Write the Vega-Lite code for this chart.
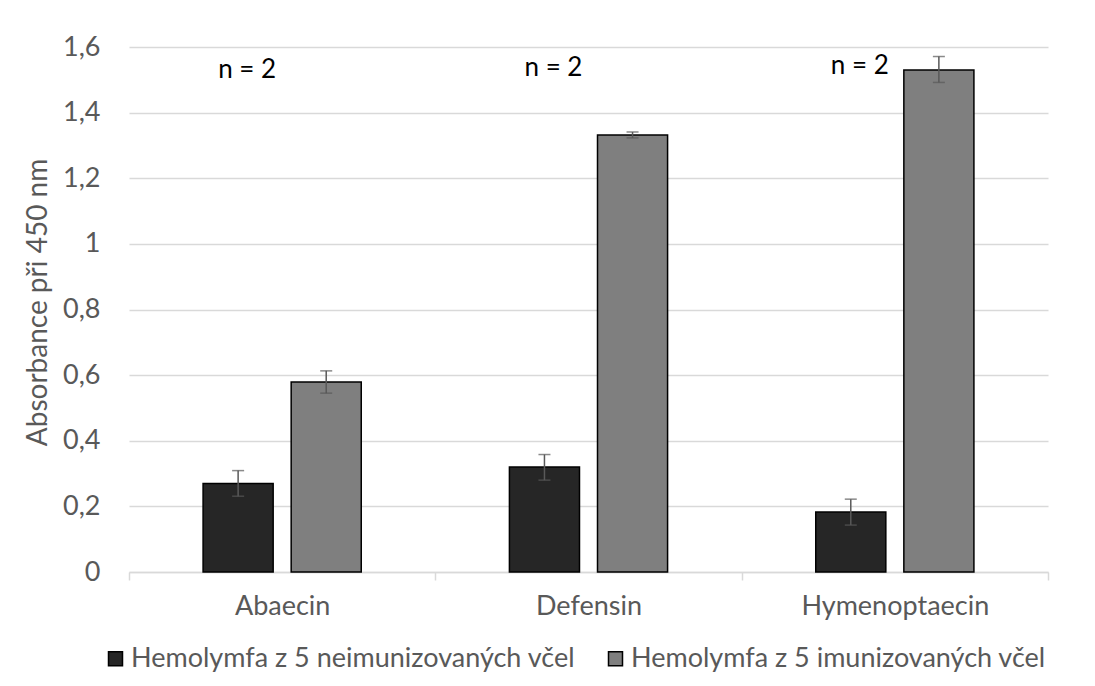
{
  "$schema": "https://vega.github.io/schema/vega-lite/v6.json",
  "autosize": "none",
  "width": 919,
  "height": 525,
  "padding": {"left": 129, "top": 47, "right": 47, "bottom": 114},
  "background": "white",
  "config": {
    "font": "Lato",
    "view": {"stroke": null}
  },
  "datasets": {
    "bars": [
      {"gene": "Abaecin", "group": "Hemolymfa z 5 neimunizovaných včel", "value": 0.270, "lo": 0.231, "hi": 0.309},
      {"gene": "Abaecin", "group": "Hemolymfa z 5 imunizovaných včel", "value": 0.579, "lo": 0.545, "hi": 0.613},
      {"gene": "Defensin", "group": "Hemolymfa z 5 neimunizovaných včel", "value": 0.320, "lo": 0.280, "hi": 0.358},
      {"gene": "Defensin", "group": "Hemolymfa z 5 imunizovaných včel", "value": 1.332, "lo": 1.323, "hi": 1.341},
      {"gene": "Hymenoptaecin", "group": "Hemolymfa z 5 neimunizovaných včel", "value": 0.183, "lo": 0.143, "hi": 0.222},
      {"gene": "Hymenoptaecin", "group": "Hemolymfa z 5 imunizovaných včel", "value": 1.530, "lo": 1.492, "hi": 1.571}
    ],
    "notes": [
      {"gene": "Abaecin", "group": "Hemolymfa z 5 neimunizovaných včel", "label": "n = 2", "pos": 1.530},
      {"gene": "Defensin", "group": "Hemolymfa z 5 neimunizovaných včel", "label": "n = 2", "pos": 1.536},
      {"gene": "Hymenoptaecin", "group": "Hemolymfa z 5 neimunizovaných včel", "label": "n = 2", "pos": 1.542}
    ]
  },
  "encoding": {
    "x": {
      "field": "gene",
      "type": "nominal",
      "sort": ["Abaecin", "Defensin", "Hymenoptaecin"],
      "scale": {"paddingInner": 0, "paddingOuter": 0},
      "axis": {
        "title": null,
        "labelAngle": 0,
        "labelFontSize": 27,
        "labelColor": "#595959",
        "labelPadding": 13,
        "labelLimit": 0,
        "domainColor": "#d9d9d9",
        "domainWidth": 1.5,
        "tickColor": "#d9d9d9",
        "tickWidth": 1.5,
        "tickSize": 8,
        "tickBand": "extent",
        "grid": false
      }
    },
    "xOffset": {
      "field": "group",
      "type": "nominal",
      "sort": ["Hemolymfa z 5 neimunizovaných včel", "Hemolymfa z 5 imunizovaných včel"],
      "scale": {"paddingInner": 0.2045, "paddingOuter": 0.841}
    }
  },
  "layer": [
    {
      "data": {"name": "bars"},
      "mark": {"type": "bar", "stroke": "black", "strokeWidth": 1.5},
      "encoding": {
        "y": {
          "field": "value",
          "type": "quantitative",
          "scale": {"domain": [0, 1.6], "nice": false},
          "axis": {
            "title": "Absorbance při 450 nm",
            "titleFontSize": 28,
            "titleFontWeight": "normal",
            "titleColor": "#595959",
            "titleX": -77,
            "titleY": 255,
            "titleBaseline": "bottom",
            "titleAngle": 270,
            "values": [0, 0.2, 0.4, 0.6, 0.8, 1, 1.2, 1.4, 1.6],
            "labelExpr": "replace(format(datum.value, '~g'), '.', ',')",
            "labelFontSize": 27,
            "labelColor": "#595959",
            "labelPadding": 29,
            "ticks": false,
            "domain": false,
            "grid": true,
            "gridColor": "#d9d9d9",
            "gridWidth": 1.5
          }
        },
        "color": {
          "field": "group",
          "type": "nominal",
          "sort": ["Hemolymfa z 5 neimunizovaných včel", "Hemolymfa z 5 imunizovaných včel"],
          "scale": {"range": ["#262626", "#7f7f7f"]},
          "legend": {
            "title": null,
            "orient": "none",
            "direction": "horizontal",
            "legendX": -27,
            "legendY": 598,
            "symbolType": "square",
            "symbolSize": 196,
            "symbolStrokeColor": "black",
            "symbolStrokeWidth": 1.5,
            "labelFontSize": 27,
            "labelColor": "#595959",
            "labelLimit": 0,
            "labelOffset": 2,
            "columnPadding": 26,
            "padding": 0
          }
        }
      }
    },
    {
      "data": {"name": "bars"},
      "mark": {"type": "rule", "color": "#595959", "strokeWidth": 1.5},
      "encoding": {
        "y": {"field": "lo", "type": "quantitative"},
        "y2": {"field": "hi"}
      }
    },
    {
      "data": {"name": "bars"},
      "mark": {"type": "tick", "color": "#595959", "size": 12, "thickness": 1.5, "orient": "horizontal"},
      "encoding": {
        "y": {"field": "lo", "type": "quantitative"}
      }
    },
    {
      "data": {"name": "bars"},
      "mark": {"type": "tick", "color": "#595959", "size": 12, "thickness": 1.5, "orient": "horizontal"},
      "encoding": {
        "y": {"field": "hi", "type": "quantitative"}
      }
    },
    {
      "data": {"name": "notes"},
      "mark": {"type": "text", "fontSize": 26, "color": "black", "dx": 9, "baseline": "middle"},
      "encoding": {
        "y": {"field": "pos", "type": "quantitative"},
        "text": {"field": "label"}
      }
    }
  ]
}
